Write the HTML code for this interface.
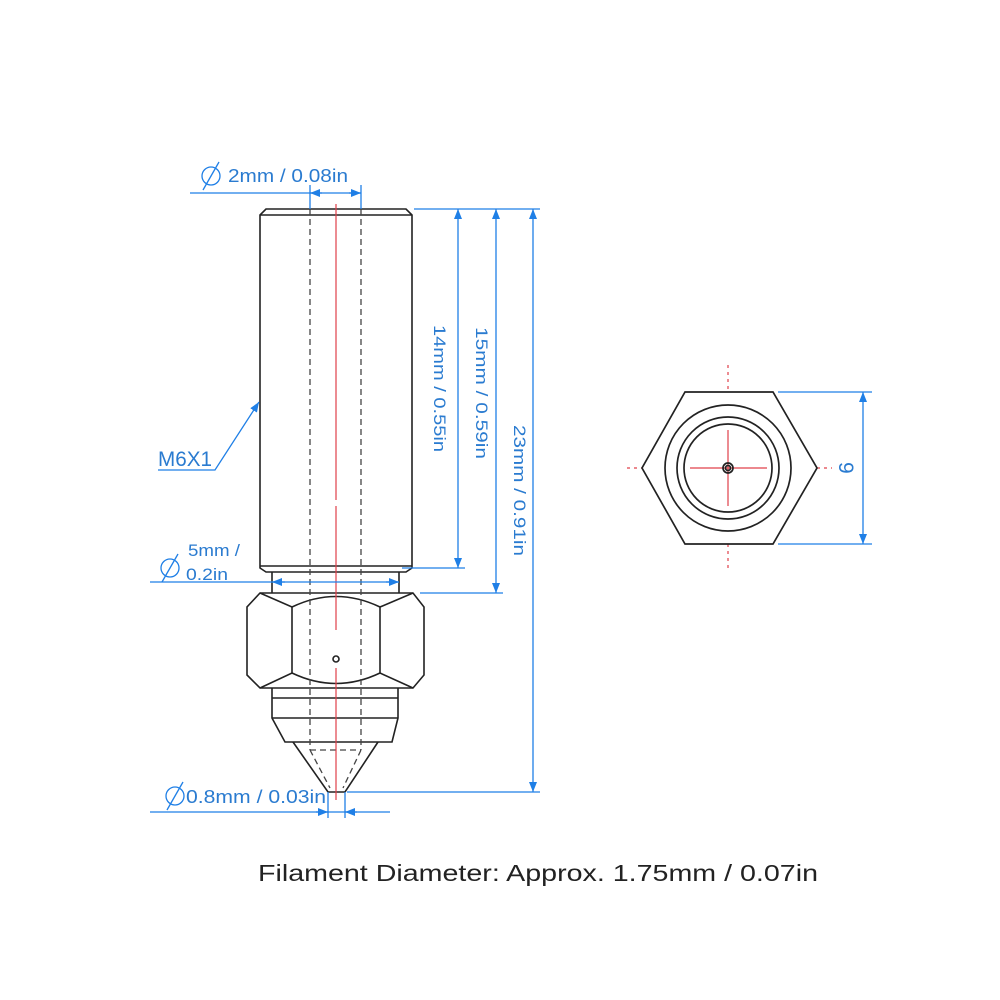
<!DOCTYPE html>
<html><head><style>html,body{margin:0;padding:0;background:#fff}svg{display:block}</style></head>
<body>
<svg width="1000" height="1000" viewBox="0 0 1000 1000" xmlns="http://www.w3.org/2000/svg" font-family="Liberation Sans, sans-serif">
<defs>
<marker id="a" viewBox="0 0 10 10" refX="10" refY="5" markerWidth="10" markerHeight="10" markerUnits="userSpaceOnUse" orient="auto-start-reverse"><path d="M0,1 L10,5 L0,9 Z" fill="#1f7fe6"/></marker>
</defs>
<g fill="none" stroke="#222" stroke-width="1.6">
<path d="M260,568 L260,215 L266,209 L406,209 L412,215 L412,568 L406,572 L266,572 Z"/>
<line x1="260" y1="215" x2="412" y2="215"/>
<line x1="260" y1="566" x2="412" y2="566"/>
<path d="M272,572 L272,593 M399,572 L399,593"/>
<path d="M260,593 L413,593 L424,607 L424,675 L413,688 L260,688 L247,675 L247,607 Z"/>
<path d="M292,607 L292,673 M380,607 L380,673"/>
<path d="M260,593 L292,607 Q336,586 380,607 L413,593"/>
<path d="M260,688 L292,673 Q336,694 380,673 L413,688"/>
<circle cx="336" cy="659" r="3"/>
<path d="M272,688 L272,718 L285,742 L392,742 L398,718 L398,688"/>
<line x1="272" y1="698" x2="398" y2="698"/>
<line x1="272" y1="718" x2="398" y2="718"/>
<path d="M293,742 L328,792 L345,792 L378,742"/>
</g>
<g fill="none" stroke="#444" stroke-width="1.3" stroke-dasharray="6,4">
<line x1="310" y1="209" x2="310" y2="750"/>
<line x1="361" y1="209" x2="361" y2="750"/>
<path d="M310,750 L361,750 M310,750 L330,788 M361,750 L343,788"/>
</g>
<g stroke="#e0404a" stroke-width="1.2" fill="none">
<path d="M336,204 L336,500 M336,506 L336,630 M336,668 L336,800"/>
<path d="M690,468 L767,468 M728,430 L728,506"/>
<path d="M728,365 L728,392 M728,544 L728,572 M627,468 L642,468 M817,468 L832,468" stroke-dasharray="3,4"/>
</g>
<g fill="none" stroke="#222" stroke-width="1.7">
<path d="M685,392 L773,392 L817,468 L773,544 L685,544 L642,468 Z"/>
<circle cx="728" cy="468" r="63"/>
<circle cx="728" cy="468" r="51"/>
<circle cx="728" cy="468" r="44"/>
<circle cx="728" cy="468" r="5"/>
<circle cx="728" cy="468" r="2.5"/>
</g>
<g stroke="#1f7fe6" stroke-width="1.3" fill="none">
<line x1="190" y1="193" x2="361" y2="193"/>
<line x1="310" y1="185" x2="310" y2="209"/>
<line x1="361" y1="185" x2="361" y2="209"/>
<line x1="322" y1="193" x2="310" y2="193" marker-end="url(#a)"/>
<line x1="349" y1="193" x2="361" y2="193" marker-end="url(#a)"/>
<line x1="414" y1="209" x2="540" y2="209"/>
<line x1="402" y1="568" x2="465" y2="568"/>
<line x1="420" y1="593" x2="503" y2="593"/>
<line x1="347" y1="792" x2="540" y2="792"/>
<line x1="458" y1="209" x2="458" y2="568" marker-start="url(#a)" marker-end="url(#a)"/>
<line x1="496" y1="209" x2="496" y2="593" marker-start="url(#a)" marker-end="url(#a)"/>
<line x1="533" y1="209" x2="533" y2="792" marker-start="url(#a)" marker-end="url(#a)"/>
<line x1="150" y1="582" x2="399" y2="582"/>
<line x1="285" y1="582" x2="272" y2="582" marker-end="url(#a)"/>
<line x1="386" y1="582" x2="399" y2="582" marker-end="url(#a)"/>
<line x1="150" y1="812" x2="390" y2="812"/>
<line x1="328" y1="792" x2="328" y2="818"/>
<line x1="345" y1="792" x2="345" y2="818"/>
<line x1="316" y1="812" x2="328" y2="812" marker-end="url(#a)"/>
<line x1="357" y1="812" x2="345" y2="812" marker-end="url(#a)"/>
<path d="M158,470 L215,470 L259,402" marker-end="url(#a)"/>
<line x1="778" y1="392" x2="872" y2="392"/>
<line x1="778" y1="544" x2="872" y2="544"/>
<line x1="863" y1="392" x2="863" y2="544" marker-start="url(#a)" marker-end="url(#a)"/>
<circle cx="211" cy="176" r="9"/><line x1="203" y1="190" x2="219" y2="162"/>
<circle cx="170" cy="568" r="9"/><line x1="162" y1="582" x2="178" y2="554"/>
<circle cx="175" cy="796" r="9"/><line x1="167" y1="810" x2="183" y2="782"/>
</g>
<g fill="#2a7bd0" font-size="18">
<text x="228" y="182" textLength="120" lengthAdjust="spacingAndGlyphs">2mm / 0.08in</text>
<text x="158" y="466" font-size="21" textLength="54" lengthAdjust="spacingAndGlyphs">M6X1</text>
<text x="188" y="556" font-size="17" textLength="52" lengthAdjust="spacingAndGlyphs">5mm /</text>
<text x="186" y="580" font-size="17" textLength="42" lengthAdjust="spacingAndGlyphs">0.2in</text>
<text x="186" y="803" textLength="140" lengthAdjust="spacingAndGlyphs">0.8mm / 0.03in</text>
<text transform="translate(434,325) rotate(90)" font-size="17" textLength="127" lengthAdjust="spacingAndGlyphs">14mm / 0.55in</text>
<text transform="translate(476,327) rotate(90)" font-size="17" textLength="132" lengthAdjust="spacingAndGlyphs">15mm / 0.59in</text>
<text transform="translate(514,425) rotate(90)" font-size="17" textLength="131" lengthAdjust="spacingAndGlyphs">23mm / 0.91in</text>
<text transform="translate(839,462) rotate(90)" font-size="21">9</text>
</g>
<text x="258" y="881" font-size="23" fill="#222" textLength="560" lengthAdjust="spacingAndGlyphs">Filament Diameter: Approx. 1.75mm / 0.07in</text>
</svg>
</body></html>
